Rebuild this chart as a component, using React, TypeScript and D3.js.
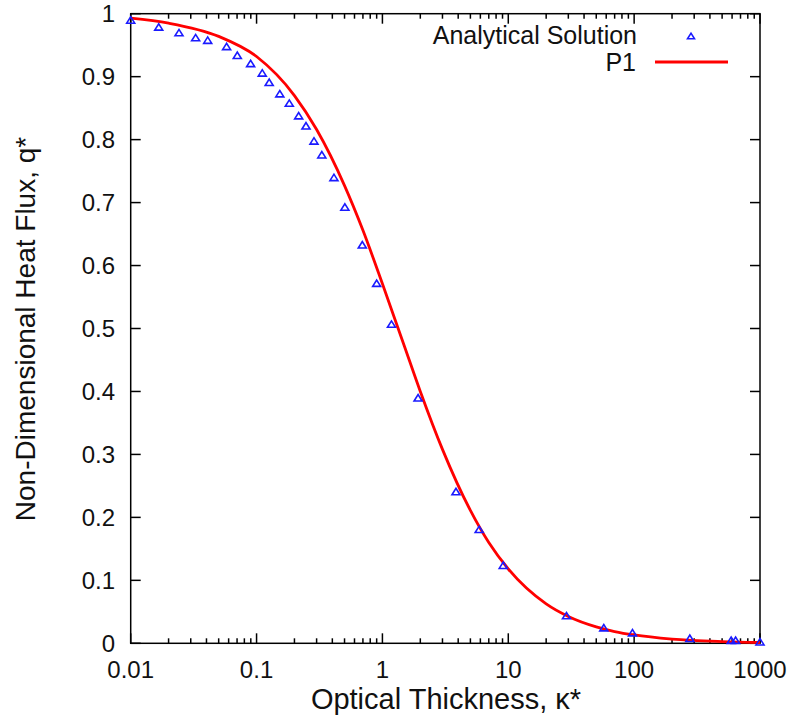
import React from "react";
import * as d3 from "d3";

const xTicks = [0.01, 0.1, 1, 10, 100, 1000];
const xTickLabels = ["0.01", "0.1", "1", "10", "100", "1000"];
const yTicks = [0, 0.1, 0.2, 0.3, 0.4, 0.5, 0.6, 0.7, 0.8, 0.9, 1];
const yTickLabels = ["0", "0.1", "0.2", "0.3", "0.4", "0.5", "0.6", "0.7", "0.8", "0.9", "1"];

const analyticX = [0.01, 0.0167, 0.0242, 0.0328, 0.0409, 0.0578, 0.0703, 0.0897, 0.111, 0.126, 0.153, 0.182, 0.216, 0.247, 0.286, 0.33, 0.412, 0.503, 0.692, 0.9, 1.18, 1.92, 3.84, 5.87, 9.12, 29.0, 57.4, 97, 277, 590, 640, 1000];
const analyticY = [0.99, 0.979, 0.97, 0.962, 0.958, 0.948, 0.934, 0.921, 0.906, 0.891, 0.873, 0.858, 0.838, 0.822, 0.798, 0.776, 0.74, 0.693, 0.633, 0.572, 0.507, 0.39, 0.241, 0.181, 0.124, 0.044, 0.0248, 0.0168, 0.008, 0.005, 0.005, 0.0025];

const p1X = [0.01, 0.02, 0.05, 0.1, 0.2, 0.3, 0.5, 0.7, 1, 1.5, 2, 3, 5, 7, 10, 20, 30, 50, 70, 100, 200, 500, 1000];
const p1Y = [0.993, 0.985, 0.964, 0.932, 0.87, 0.816, 0.727, 0.656, 0.571, 0.471, 0.4, 0.308, 0.211, 0.16, 0.118, 0.0625, 0.0425, 0.026, 0.0187, 0.0132, 0.0066, 0.0027, 0.0013];

const seriesNames = ["Analytical Solution", "P1"];
const xTitle = "Optical Thickness, \u03ba*";
const yTitle = "Non-Dimensional Heat Flux, q*";

const W = 796;
const H = 728;
const left = 130.7;
const right = 760;
const top = 13.7;
const bottom = 643.3;
const FONT = "'Liberation Sans', Arial, sans-serif";

function triPath(cx: number, cy: number, s: number) {
  const h = s * 0.8;
  return `M${cx - s / 2},${cy + h / 2}L${cx + s / 2},${cy + h / 2}L${cx},${cy - h / 2}Z`;
}

export default function App() {
  const x = d3.scaleLog().domain([0.01, 1000]).range([left, right]);
  const y = d3.scaleLinear().domain([0, 1]).range([bottom, top]);

  const minor: number[] = [];
  for (let e = -2; e < 3; e++) {
    for (let m = 2; m <= 9; m++) minor.push(m * Math.pow(10, e));
  }

  const line = d3
    .line<number>()
    .x((_, i) => x(p1X[i]))
    .y((d) => y(d))
    .curve(d3.curveMonotoneX);

  const majorLen = 10;
  const minorLen = 5;

  return (
    <svg width={W} height={H} style={{ position: "absolute", left: 0, top: 0, background: "#fff" }} fontFamily={FONT}>
      {xTicks.map((t, i) => (
        <g key={"xt" + i}>
          <line x1={x(t)} x2={x(t)} y1={bottom} y2={bottom - majorLen} stroke="#000" strokeWidth={1.5} />
          <line x1={x(t)} x2={x(t)} y1={top} y2={top + majorLen} stroke="#000" strokeWidth={1.5} />
          <text x={x(t)} y={678} fontSize={24} textAnchor="middle" fill="#111">
            {xTickLabels[i]}
          </text>
        </g>
      ))}
      {minor.map((t, i) => (
        <g key={"mn" + i}>
          <line x1={x(t)} x2={x(t)} y1={bottom} y2={bottom - minorLen} stroke="#000" strokeWidth={1.5} />
          <line x1={x(t)} x2={x(t)} y1={top} y2={top + minorLen} stroke="#000" strokeWidth={1.5} />
        </g>
      ))}
      {yTicks.map((t, i) => (
        <g key={"yt" + i}>
          <line x1={left} x2={left + majorLen} y1={y(t)} y2={y(t)} stroke="#000" strokeWidth={1.5} />
          <line x1={right} x2={right - majorLen} y1={y(t)} y2={y(t)} stroke="#000" strokeWidth={1.5} />
          <text x={115} y={y(t)} dy="0.35em" fontSize={24} textAnchor="end" fill="#111">
            {yTickLabels[i]}
          </text>
        </g>
      ))}
      <rect x={left} y={top} width={right - left} height={bottom - top} fill="none" stroke="#000" strokeWidth={1.5} />

      <path d={line(p1Y) || ""} fill="none" stroke="#ff0000" strokeWidth={2.8} />

      {analyticX.map((v, i) => (
        <path key={"p" + i} d={triPath(x(v), y(analyticY[i]), 8)} fill="none" stroke="#1a1aff" strokeWidth={1.6} />
      ))}

      <text x={637} y={44} fontSize={25} textAnchor="end" fill="#111">
        {seriesNames[0]}
      </text>
      <path d={triPath(691, 36, 7)} fill="none" stroke="#1a1aff" strokeWidth={1.6} />
      <text x={636} y={71} fontSize={25} textAnchor="end" fill="#111">
        {seriesNames[1]}
      </text>
      <line x1={655} x2={728} y1={62} y2={62} stroke="#ff0000" strokeWidth={2.8} />

      <text x={446} y={709} fontSize={29} textAnchor="middle" fill="#111">
        {xTitle}
      </text>
      <text transform={`translate(35,${329}) rotate(-90)`} fontSize={28} textAnchor="middle" fill="#111">
        {yTitle}
      </text>
    </svg>
  );
}
